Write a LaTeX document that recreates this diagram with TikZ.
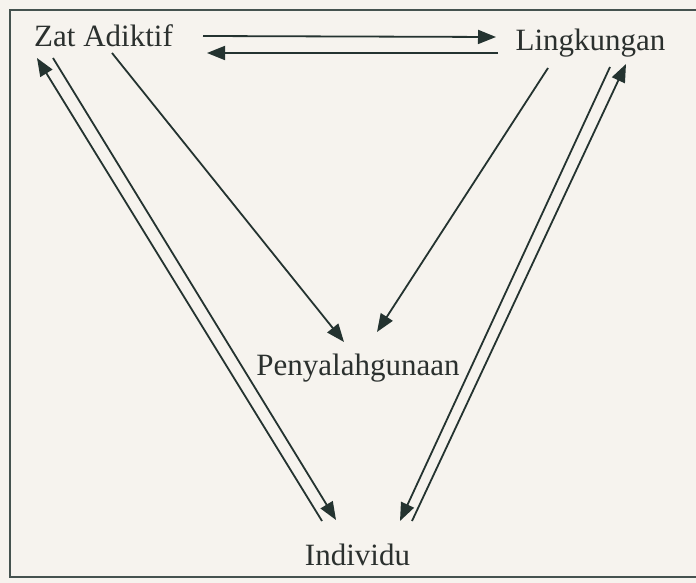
\documentclass[tikz,border=0pt]{standalone}
\usepackage{fontspec}
\setmainfont{Liberation Serif}
\usetikzlibrary{arrows.meta}
\definecolor{bg}{HTML}{F6F3EE}
\definecolor{ink}{HTML}{243330}
\definecolor{txt}{HTML}{2B302E}
\tikzset{
  lbl/.style={font=\fontsize{31}{36}\selectfont, text=txt, inner sep=0pt, anchor=base},
  conn/.style={draw=ink, line width=1.8pt, -{Triangle[length=18pt,width=14pt]}},
  frameline/.style={draw=ink!85, line width=2.2pt}
}
\begin{document}
\begin{tikzpicture}[x=1pt,y=-1pt]
\fill[bg] (0,0) rectangle (696,583);
\useasboundingbox (0,0) rectangle (696,583);
% frame
\draw[frameline] (700,10) -- (10,10) -- (10,577) -- (700,577);
% labels
\node[lbl] (zat) at (103.5,47) {Zat Adiktif};
\node[lbl] (ling) at (590.5,51) {Lingkungan};
\node[lbl] (peny) at (358,375) {Penyalahgunaan};
\node[lbl] (ind) at (357.5,565) {Individu};
% endpoints
\coordinate (h1s) at (203,36);
\coordinate (h1e) at (496,37);
\coordinate (h2s) at (498,53);
\coordinate (h2e) at (207,53);
\coordinate (zp1) at (112,53);
\coordinate (zp2) at (344,342);
\coordinate (lp1) at (548,68);
\coordinate (lp2) at (377,332);
\coordinate (li1) at (322,521);
\coordinate (li2) at (37,58);
\coordinate (zi1) at (53,58);
\coordinate (zi2) at (336,520);
\coordinate (ri1) at (412,521);
\coordinate (ri2) at (626,64);
\coordinate (ir1) at (610,67);
\coordinate (ir2) at (400,521);
% connectors
\draw[conn] (h1s) -- (h1e);
\draw[conn] (h2s) -- (h2e);
\draw[conn] (zp1) -- (zp2);
\draw[conn] (lp1) -- (lp2);
\draw[conn] (li1) -- (li2);
\draw[conn] (zi1) -- (zi2);
\draw[conn] (ri1) -- (ri2);
\draw[conn] (ir1) -- (ir2);
\end{tikzpicture}
\end{document}
